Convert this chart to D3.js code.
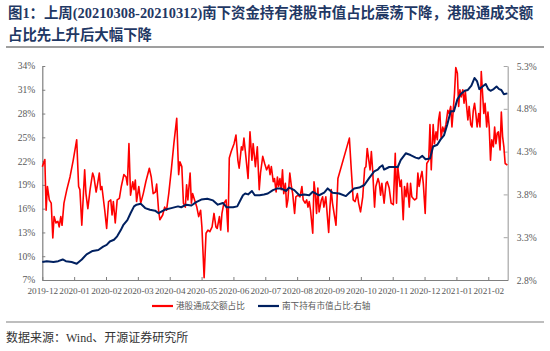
<!DOCTYPE html>
<html><head><meta charset="utf-8">
<script src="https://cdn.jsdelivr.net/npm/d3@7"></script>
<style>
html,body{margin:0;padding:0;background:#fff;}
svg{display:block;}
</style></head>
<body>
<svg id="c" width="550" height="351"></svg>
<script>
// ---- data ----
const monthLabels = ["2019-12","2020-01","2020-02","2020-03","2020-04","2020-05","2020-06","2020-07","2020-08","2020-09","2020-10","2020-11","2020-12","2021-01","2021-02"];
const leftTicks = [7,10,13,16,19,22,25,28,31,34];
const rightTicks = [2.8,3.3,3.8,4.3,4.8,5.3];
// time position in months since 2019-12 (category axis), turnover share (%)
const redT = [0.00,0.08,0.12,0.16,0.22,0.28,0.33,0.37,0.43,0.49,0.53,0.58,0.62,0.68,0.77,0.87,0.97,1.08,1.14,1.18,1.24,1.33,1.37,1.43,1.50,1.58,1.62,1.69,1.73,1.79,1.83,1.87,1.96,2.02,2.08,2.15,2.19,2.23,2.29,2.35,2.42,2.48,2.56,2.63,2.67,2.72,2.77,2.84,2.88,2.92,2.96,3.03,3.09,3.17,3.25,3.36,3.42,3.48,3.55,3.59,3.65,3.69,3.78,3.84,3.90,3.97,4.05,4.13,4.22,4.28,4.32,4.38,4.43,4.49,4.53,4.57,4.64,4.68,4.72,4.78,4.85,4.91,4.97,5.01,5.08,5.14,5.20,5.26,5.33,5.39,5.45,5.49,5.56,5.60,5.64,5.70,5.77,5.83,5.87,5.93,6.02,6.08,6.14,6.18,6.25,6.29,6.33,6.39,6.46,6.52,6.58,6.62,6.69,6.75,6.81,6.85,6.92,6.98,7.04,7.11,7.15,7.19,7.25,7.29,7.34,7.38,7.42,7.46,7.50,7.54,7.58,7.63,7.67,7.71,7.77,7.82,7.86,7.92,7.96,8.03,8.09,8.15,8.19,8.25,8.30,8.34,8.38,8.42,8.49,8.53,8.57,8.61,8.65,8.69,8.76,8.80,8.84,8.90,8.95,8.99,9.03,9.07,9.11,9.16,9.22,9.28,9.64,9.70,9.76,9.82,9.89,9.93,9.99,10.06,10.12,10.16,10.20,10.25,10.29,10.33,10.37,10.43,10.47,10.54,10.58,10.62,10.66,10.73,10.79,10.83,10.89,10.95,11.02,11.08,11.12,11.16,11.23,11.27,11.33,11.37,11.42,11.46,11.52,11.56,11.60,11.64,11.69,11.75,11.79,11.83,11.88,11.92,11.96,12.02,12.07,12.13,12.17,12.21,12.27,12.31,12.36,12.40,12.44,12.48,12.52,12.57,12.61,12.67,12.73,12.77,12.82,12.86,12.90,12.94,12.98,13.03,13.07,13.11,13.15,13.20,13.24,13.28,13.32,13.36,13.40,13.45,13.49,13.53,13.57,13.61,13.65,13.70,13.74,13.78,13.82,13.86,13.90,13.95,13.99,14.03,14.07,14.11,14.16,14.20,14.24,14.28,14.32,14.37,14.41,14.45,14.49,14.53,14.60];
const redV = [21.3,22.2,15.8,18.8,17.1,16.7,12.3,15.0,14.2,14.4,13.7,15.0,13.9,16.7,18.4,20.0,22.1,24.7,18.8,18.4,13.9,20.9,17.9,16.0,18.4,20.5,20.0,18.1,19.0,20.5,18.4,18.8,15.8,13.5,16.9,17.1,15.2,16.9,14.2,17.1,17.3,18.8,20.3,20.0,19.0,24.2,17.7,19.4,18.4,19.6,16.9,18.8,16.7,17.9,19.4,21.1,20.0,17.9,18.1,19.1,15.8,14.6,15.2,16.2,15.8,17.9,20.9,24.2,27.4,20.3,21.9,21.3,16.7,16.2,19.0,17.1,20.5,16.7,17.9,17.1,16.2,15.0,15.8,13.7,7.3,12.9,13.3,13.1,13.7,15.4,13.7,13.5,15.0,13.3,15.4,16.7,17.1,13.1,22.4,23.2,24.2,25.3,22.1,21.1,23.8,23.4,24.9,22.6,19.8,25.7,22.1,24.2,21.3,23.8,18.4,20.5,22.6,21.7,20.9,21.5,20.3,21.3,19.4,19.8,18.1,20.0,18.8,19.8,18.4,20.9,17.9,19.2,16.2,17.1,20.5,18.8,17.9,15.4,17.5,17.7,17.5,18.8,17.1,16.7,17.1,16.2,16.9,15.8,12.9,19.4,17.9,15.4,18.6,15.6,17.1,17.5,16.2,17.5,15.0,13.0,16.2,18.4,16.7,15.4,13.9,19.8,24.9,20.9,17.1,16.9,17.9,16.7,15.6,17.5,21.1,21.3,23.6,22.1,20.9,23.2,20.9,16.2,18.8,19.8,19.2,17.7,19.2,16.7,19.2,19.4,18.6,16.7,16.5,23.0,16.7,21.3,18.8,19.6,14.6,18.8,17.5,19.2,16.2,19.2,17.5,17.3,17.1,17.3,20.5,18.8,20.0,20.7,19.2,15.4,21.7,22.1,26.6,20.9,26.6,24.2,25.7,24.7,27.2,28.2,24.9,26.3,25.7,26.6,28.4,28.0,28.9,26.3,28.4,30.6,33.8,33.1,28.9,31.0,30.1,31.0,29.3,30.8,28.9,27.2,28.9,26.6,26.3,28.4,29.3,28.0,26.3,28.0,26.3,33.3,30.6,28.0,29.3,26.3,28.2,26.3,22.1,24.7,23.8,26.3,24.2,25.5,25.7,23.4,28.2,25.1,23.8,21.7,21.5];
// southbound holdings share of market value (%), right axis
const blueT = [0.00,0.14,0.35,0.50,0.64,0.74,0.92,1.08,1.24,1.39,1.58,1.76,1.91,2.02,2.12,2.25,2.35,2.46,2.54,2.67,2.77,2.88,2.96,3.09,3.23,3.38,3.54,3.65,3.84,4.05,4.26,4.36,4.52,4.68,4.83,4.99,5.18,5.36,5.51,5.67,5.78,5.99,6.12,6.23,6.30,6.37,6.46,6.58,6.67,6.82,6.96,7.08,7.24,7.38,7.49,7.65,7.75,7.91,8.07,8.22,8.38,8.49,8.69,8.85,8.96,9.11,9.32,9.53,9.64,9.79,9.95,10.11,10.26,10.42,10.53,10.60,10.68,10.73,10.89,11.08,11.16,11.25,11.41,11.56,11.72,11.82,11.93,12.03,12.17,12.27,12.40,12.50,12.61,12.71,12.82,12.92,13.03,13.13,13.26,13.36,13.47,13.57,13.65,13.72,13.82,13.92,14.00,14.07,14.17,14.26,14.34,14.41,14.49,14.60];
const blueV = [3.01,3.02,3.01,3.02,3.04,3.02,3.01,2.99,3.04,3.10,3.14,3.15,3.19,3.21,3.25,3.27,3.31,3.38,3.44,3.50,3.58,3.66,3.68,3.69,3.64,3.62,3.61,3.58,3.62,3.64,3.66,3.65,3.68,3.67,3.71,3.74,3.75,3.73,3.68,3.70,3.65,3.65,3.66,3.74,3.79,3.81,3.80,3.84,3.79,3.79,3.80,3.81,3.85,3.87,3.87,3.84,3.88,3.85,3.79,3.80,3.79,3.83,3.79,3.82,3.87,3.82,3.81,3.78,3.82,3.87,3.88,3.91,3.99,4.07,4.09,4.12,4.14,4.09,4.12,4.12,4.12,4.20,4.28,4.26,4.23,4.22,4.25,4.21,4.22,4.36,4.38,4.44,4.49,4.61,4.77,4.77,4.91,4.97,5.01,5.02,5.07,5.16,5.12,5.03,5.06,5.09,5.03,5.01,5.03,5.06,5.03,5.02,4.97,4.98];
const seriesNames = ["港股通成交额占比","南下持有市值占比:右轴"];
const titleLines = ["图1：上周(20210308-20210312)南下资金持有港股市值占比震荡下降，港股通成交额","占比先上升后大幅下降"];
const sourceText = "数据来源：Wind、开源证券研究所";

// ---- layout ----
const svg = d3.select("#c");
const L = 42.3, R = 507.7, T = 66, B = 280;
const serif = "'Liberation Serif','Times New Roman','Noto Sans CJK SC',serif";
const cjk = "'Liberation Serif','Noto Sans CJK SC',sans-serif";

const x = d3.scaleLinear().domain([0, 14.61]).range([L, R]);
const yL = d3.scaleLinear().domain([7, 34]).range([B, T]);
const yR = d3.scaleLinear().domain([2.8, 5.3]).range([B, T]);

// title
svg.append("g").selectAll("text").data(titleLines).join("text")
  .attr("x", 8).attr("y", (d,i)=> 18 + i*22)
  .attr("font-family", cjk).attr("font-weight", "bold").attr("font-size", 14.4)
  .attr("fill", "#1F3864").text(d=>d);
svg.append("line").attr("x1",6).attr("x2",544).attr("y1",47).attr("y2",47)
  .attr("stroke","#7f7f7f").attr("stroke-width",1.5);

// axes
const axL = d3.axisLeft(yL).tickValues(leftTicks).tickFormat(d=>d+"%").tickSizeInner(-3).tickSizeOuter(0).tickPadding(7);
const axR = d3.axisRight(yR).tickValues(rightTicks).tickFormat(d=>d.toFixed(1)+"%").tickSizeInner(-4).tickSizeOuter(0).tickPadding(9);
const axB = d3.axisBottom(x).tickValues(d3.range(monthLabels.length)).tickFormat(i=>monthLabels[i]).tickSizeInner(-3).tickSizeOuter(0).tickPadding(7);

function styleAxis(g, col){
  g.select(".domain").attr("stroke", col).attr("stroke-width", 1.2);
  g.selectAll(".tick line").attr("stroke", col).attr("stroke-width", 1);
  g.selectAll("text").attr("fill", "#595959").attr("font-family", serif);
}
const gL = svg.append("g").attr("transform", `translate(${L},0)`).call(axL);
gL.attr("font-size", 9.6); styleAxis(gL, "#7f7f7f");
gL.selectAll(".tick text").attr("dy", "0.3em");
const gR = svg.append("g").attr("transform", `translate(${R},0)`).call(axR);
gR.attr("font-size", 9.6); styleAxis(gR, "#a6a6a6");
const gB = svg.append("g").attr("transform", `translate(0,${B})`).call(axB);
gB.attr("font-size", 9.2); styleAxis(gB, "#7f7f7f");

// lines
const redData = redT.map((t,i)=>({t, v: redV[i]}));
const blueData = blueT.map((t,i)=>({t, v: blueV[i]}));
svg.append("path").datum(redData)
  .attr("d", d3.line().x(d=>x(d.t)).y(d=>yL(d.v)))
  .attr("fill","none").attr("stroke","#FF0000").attr("stroke-width",1.6).attr("stroke-linejoin","round");
svg.append("path").datum(blueData)
  .attr("d", d3.line().x(d=>x(d.t)).y(d=>yR(d.v)))
  .attr("fill","none").attr("stroke","#002060").attr("stroke-width",2).attr("stroke-linejoin","round");

// legend
const legend = [{name: seriesNames[0], color: "#FF0000", x: 152}, {name: seriesNames[1], color: "#002060", x: 258}];
const lg = svg.append("g").selectAll("g").data(legend).join("g").attr("transform", d=>`translate(${d.x},306)`);
lg.append("line").attr("x1",0).attr("x2",21).attr("stroke",d=>d.color).attr("stroke-width",2.2);
lg.append("text").attr("x",24).attr("y",3.2).attr("font-size",8.6).attr("font-family",cjk)
  .attr("fill","#595959").text(d=>d.name);

// footer
svg.append("line").attr("x1",6).attr("x2",544).attr("y1",322).attr("y2",322)
  .attr("stroke","#7f7f7f").attr("stroke-width",1.2);
svg.append("text").attr("x",6).attr("y",342).attr("font-size",12).attr("font-family",cjk)
  .attr("fill","#333").text(sourceText);
</script>
</body></html>
